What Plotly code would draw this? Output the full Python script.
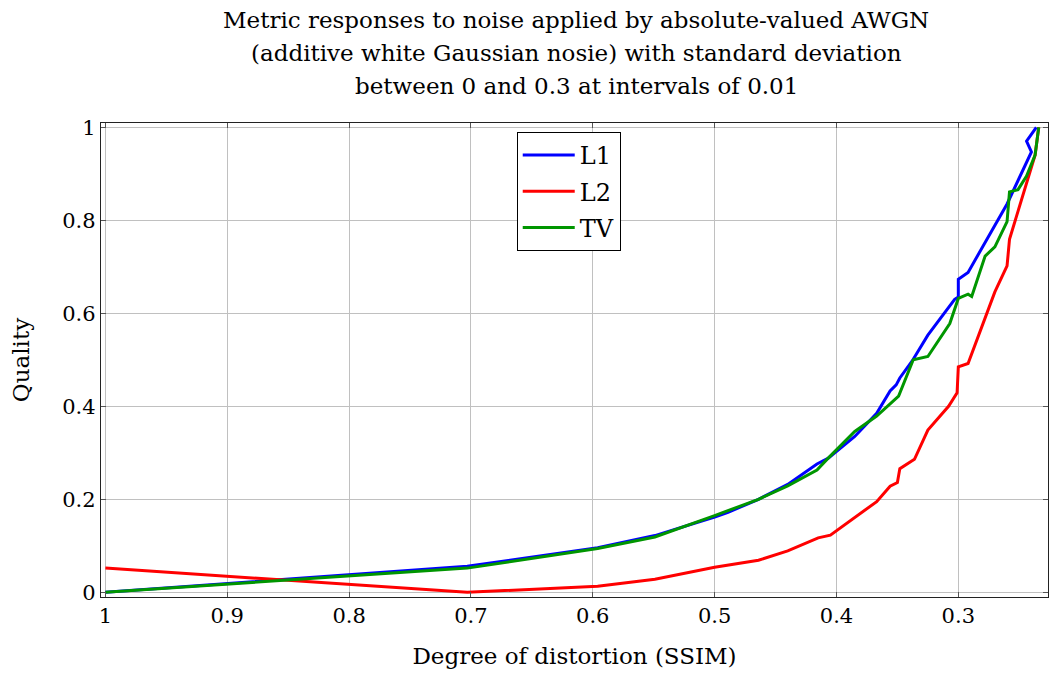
import plotly.graph_objects as go

# ---- data ----
l1_ssim = [1.0, 0.703, 0.596, 0.549, 0.500, 0.489, 0.464, 0.440, 0.416, 0.407, 0.385,
           0.367, 0.356, 0.351, 0.348, 0.338, 0.325, 0.303, 0.300, 0.300, 0.292,
           0.281, 0.260, 0.240, 0.244, 0.236]
l1_quality = [0.0, 0.056, 0.096, 0.122, 0.162, 0.172, 0.200, 0.232, 0.276, 0.288, 0.335,
              0.385, 0.433, 0.446, 0.461, 0.497, 0.553, 0.630, 0.635, 0.673, 0.688,
              0.739, 0.835, 0.947, 0.970, 1.0]

l2_ssim = [1.0, 0.703, 0.596, 0.549, 0.500, 0.464, 0.440, 0.415, 0.405, 0.367,
           0.356, 0.350, 0.348, 0.336, 0.325, 0.308, 0.301, 0.300, 0.292, 0.270,
           0.260, 0.258, 0.237, 0.234]
l2_quality = [0.052, 0.0, 0.013, 0.028, 0.054, 0.069, 0.089, 0.117, 0.123, 0.195,
              0.228, 0.236, 0.266, 0.286, 0.349, 0.400, 0.429, 0.485, 0.492, 0.646,
              0.702, 0.759, 0.940, 1.0]

tv_ssim = [1.0, 0.703, 0.596, 0.549, 0.500, 0.464, 0.440, 0.416, 0.407, 0.385,
           0.367, 0.349, 0.337, 0.325, 0.307, 0.301, 0.300, 0.292, 0.289, 0.278,
           0.270, 0.260, 0.258, 0.251, 0.244, 0.237, 0.234]
tv_quality = [0.0, 0.052, 0.094, 0.119, 0.165, 0.200, 0.229, 0.263, 0.288, 0.346,
              0.379, 0.422, 0.500, 0.507, 0.578, 0.627, 0.632, 0.641, 0.636, 0.723,
              0.743, 0.797, 0.861, 0.866, 0.895, 0.940, 1.0]

x_ticks = [1, 0.9, 0.8, 0.7, 0.6, 0.5, 0.4, 0.3]
x_tick_labels = ["1", "0.9", "0.8", "0.7", "0.6", "0.5", "0.4", "0.3"]
y_ticks = [0, 0.2, 0.4, 0.6, 0.8, 1]
y_tick_labels = ["0", "0.2", "0.4", "0.6", "0.8", "1"]

title_lines = ["Metric responses to noise applied by absolute-valued AWGN",
               "(additive white Gaussian nosie) with standard deviation",
               "between 0 and 0.3 at intervals of 0.01"]

FONT = "DejaVu Serif"

fig = go.Figure()
fig.add_trace(go.Scatter(x=l1_ssim, y=l1_quality, name="L1", mode="lines",
                         legendgroup="g1", line=dict(color="#0000ff", width=3)))
fig.add_trace(go.Scatter(x=l2_ssim, y=l2_quality, name="L2", mode="lines",
                         legendgroup="g2", line=dict(color="#ff0000", width=3)))
fig.add_trace(go.Scatter(x=tv_ssim, y=tv_quality, name="TV", mode="lines",
                         legendgroup="g3", line=dict(color="#009600", width=3)))

axis_common = dict(
    showline=True, linecolor="#222222", linewidth=1.3, mirror="ticks",
    showgrid=True, gridcolor="#c0c0c0", gridwidth=1,
    ticks="inside", ticklen=5, tickcolor="#555555",
    zeroline=False,
    tickfont=dict(family=FONT, size=21, color="black"),
    title_font=dict(family=FONT, size=23, color="black"),
)

# title as three centred text lines above the plot
title_y = [1.2165, 1.1470, 1.0774]
annotations = [
    dict(text=t, x=0.502, y=yy, xref="paper", yref="paper", xanchor="center",
         yanchor="middle", showarrow=False,
         font=dict(family=FONT, size=23, color="black"))
    for t, yy in zip(title_lines, title_y)
]

fig.update_layout(
    width=1049, height=675,
    margin=dict(l=101, r=1, t=123, b=78),
    paper_bgcolor="white", plot_bgcolor="white",
    annotations=annotations,
    xaxis=dict(range=[1.0036, 0.2264], tickvals=x_ticks, ticktext=x_tick_labels,
               title=dict(text="Degree of distortion (SSIM)", standoff=20), **axis_common),
    yaxis=dict(range=[-0.0101, 1.0092], tickvals=y_ticks, ticktext=y_tick_labels,
               title=dict(text="Quality", standoff=26), **axis_common),
    legend=dict(x=0.439, y=0.981, xanchor="left", yanchor="top",
                bordercolor="black", borderwidth=1, bgcolor="white",
                font=dict(family=FONT, size=24, color="black"),
                tracegroupgap=2, itemwidth=52),
    showlegend=True,
)

fig.write_html("out.html")
